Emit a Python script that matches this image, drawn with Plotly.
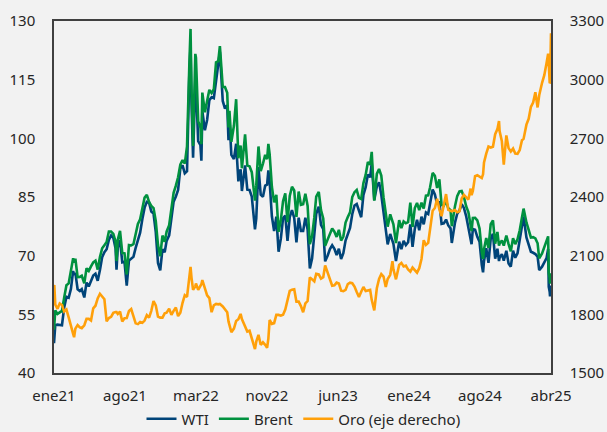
import pandas as pd
import plotly.graph_objects as go

# ---------------- DATA ----------------
fechas = [
    # 2021
    "2021-01-04", "2021-01-05", "2021-01-08", "2021-01-15", "2021-01-22", "2021-01-29",
    "2021-02-05", "2021-02-12", "2021-02-19", "2021-02-26",
    "2021-03-05", "2021-03-08", "2021-03-12", "2021-03-19", "2021-03-26",
    "2021-04-01", "2021-04-09", "2021-04-16", "2021-04-23", "2021-04-30",
    "2021-05-07", "2021-05-14", "2021-05-21", "2021-05-28",
    "2021-06-04", "2021-06-11", "2021-06-18", "2021-06-25",
    "2021-07-02", "2021-07-09", "2021-07-16", "2021-07-19", "2021-07-23", "2021-07-30",
    "2021-08-06", "2021-08-13", "2021-08-20", "2021-08-27",
    "2021-09-03", "2021-09-10", "2021-09-17", "2021-09-24",
    "2021-10-01", "2021-10-08", "2021-10-15", "2021-10-22", "2021-10-29",
    "2021-11-05", "2021-11-12", "2021-11-19", "2021-11-26",
    "2021-12-03", "2021-12-10", "2021-12-17", "2021-12-23", "2021-12-31",
    # 2022
    "2022-01-07", "2022-01-14", "2022-01-21", "2022-01-28",
    "2022-02-04", "2022-02-11", "2022-02-18", "2022-02-25",
    "2022-03-04", "2022-03-08", "2022-03-11", "2022-03-16", "2022-03-23", "2022-03-25",
    "2022-04-01", "2022-04-08", "2022-04-11", "2022-04-14", "2022-04-22", "2022-04-29",
    "2022-05-06", "2022-05-13", "2022-05-20", "2022-05-27",
    "2022-06-03", "2022-06-08", "2022-06-17", "2022-06-24",
    "2022-07-01", "2022-07-05", "2022-07-08", "2022-07-14", "2022-07-22", "2022-07-29",
    "2022-08-05", "2022-08-12", "2022-08-16", "2022-08-26",
    "2022-09-02", "2022-09-09", "2022-09-16", "2022-09-26", "2022-09-30",
    "2022-10-07", "2022-10-14", "2022-10-21", "2022-10-28",
    "2022-11-03", "2022-11-07", "2022-11-11", "2022-11-18", "2022-11-25",
    "2022-12-02", "2022-12-09", "2022-12-16", "2022-12-23", "2022-12-30",
    # 2023
    "2023-01-06", "2023-01-13", "2023-01-20", "2023-01-27",
    "2023-02-03", "2023-02-10", "2023-02-17", "2023-02-24",
    "2023-03-03", "2023-03-10", "2023-03-17", "2023-03-24", "2023-03-31",
    "2023-04-06", "2023-04-14", "2023-04-21", "2023-04-28",
    "2023-05-04", "2023-05-12", "2023-05-19", "2023-05-26",
    "2023-06-02", "2023-06-09", "2023-06-16", "2023-06-23", "2023-06-30",
    "2023-07-07", "2023-07-14", "2023-07-21", "2023-07-28",
    "2023-08-04", "2023-08-11", "2023-08-18", "2023-08-25",
    "2023-09-01", "2023-09-08", "2023-09-15", "2023-09-22", "2023-09-27",
    "2023-10-05", "2023-10-13", "2023-10-20", "2023-10-27",
    "2023-11-03", "2023-11-10", "2023-11-16", "2023-11-24",
    "2023-12-01", "2023-12-04", "2023-12-12", "2023-12-22", "2023-12-29",
    # 2024
    "2024-01-05", "2024-01-12", "2024-01-19", "2024-01-26",
    "2024-02-02", "2024-02-09", "2024-02-16", "2024-02-23",
    "2024-03-01", "2024-03-08", "2024-03-15", "2024-03-22", "2024-03-28",
    "2024-04-05", "2024-04-12", "2024-04-19", "2024-04-26",
    "2024-05-03", "2024-05-10", "2024-05-17", "2024-05-24", "2024-05-31",
    "2024-06-04", "2024-06-14", "2024-06-21", "2024-06-28",
    "2024-07-05", "2024-07-12", "2024-07-19", "2024-07-26",
    "2024-08-02", "2024-08-05", "2024-08-09", "2024-08-16", "2024-08-23", "2024-08-30",
    "2024-09-06", "2024-09-10", "2024-09-13", "2024-09-20", "2024-09-27",
    "2024-10-04", "2024-10-11", "2024-10-18", "2024-10-25", "2024-10-30",
    "2024-11-01", "2024-11-08", "2024-11-14", "2024-11-22", "2024-11-29",
    "2024-12-06", "2024-12-13", "2024-12-20", "2024-12-27",
    # 2025
    "2025-01-03", "2025-01-10", "2025-01-15", "2025-01-24", "2025-01-31",
    "2025-02-07", "2025-02-14", "2025-02-21", "2025-02-28",
    "2025-03-05", "2025-03-14", "2025-03-21", "2025-03-28",
    "2025-04-02", "2025-04-03", "2025-04-04", "2025-04-07", "2025-04-08", "2025-04-09", "2025-04-10", "2025-04-11",
]

brent = [
    # 2021
    51.09, 53.60, 55.99, 55.10, 55.41, 55.88,
    59.34, 62.43, 62.91, 66.13,
    69.36, 68.24, 69.22, 64.53, 64.57,
    64.86, 62.95, 66.77, 66.11, 67.25,
    68.28, 68.71, 66.44, 69.63,
    71.89, 72.69, 73.51, 76.18,
    76.17, 75.55, 73.59, 68.62, 74.10, 76.33,
    70.70, 70.59, 65.18, 72.70,
    72.61, 72.92, 75.34, 78.09,
    79.28, 82.39, 84.86, 85.53, 83.72,
    82.74, 82.17, 78.89, 72.72,
    69.88, 75.15, 73.52, 76.14, 77.78,
    # 2022
    81.75, 86.06, 87.89, 90.03,
    93.27, 94.44, 93.54, 97.93,
    118.11, 127.98, 112.67, 98.02, 121.60, 120.65,
    104.39, 102.78, 98.48, 111.70, 106.65, 109.34,
    112.39, 111.55, 112.55, 119.43,
    119.72, 123.58, 113.12, 113.12,
    111.63, 102.77, 107.02, 99.10, 103.20, 110.01,
    94.92, 98.15, 92.34, 100.99,
    93.02, 92.84, 91.35, 84.06, 87.96,
    97.92, 91.63, 93.50, 95.77,
    94.67, 98.57, 95.99, 87.62, 83.63,
    85.57, 76.10, 79.04, 83.92, 85.91,
    # 2023
    78.57, 85.28, 87.63, 86.66,
    79.94, 86.39, 83.00, 83.16,
    85.83, 82.78, 72.97, 74.99, 79.77,
    85.12, 86.31, 81.66, 79.54,
    72.50, 74.17, 75.58, 76.95,
    76.13, 74.79, 76.61, 73.85, 74.90,
    78.47, 79.87, 81.07, 84.99,
    86.24, 86.81, 84.80, 84.48,
    88.55, 90.65, 93.93, 93.27, 96.55,
    84.07, 90.89, 92.16, 90.48,
    84.89, 81.43, 77.42, 80.58,
    78.88, 78.03, 73.24, 79.07, 77.04,
    # 2024
    78.76, 78.29, 78.56, 83.55,
    77.33, 82.19, 83.47, 81.62,
    83.55, 82.08, 85.34, 85.43, 87.48,
    91.17, 90.45, 87.29, 89.50,
    82.96, 82.79, 83.98, 82.12, 81.62,
    77.52, 82.62, 85.24, 86.41,
    86.54, 85.03, 82.63, 81.13,
    76.81, 76.30, 79.66, 79.68, 79.02, 76.93,
    71.06, 69.19, 71.61, 74.49, 71.98,
    78.05, 79.04, 73.06, 76.05, 72.55,
    73.10, 73.87, 72.56, 75.17, 72.94,
    71.12, 74.49, 72.94, 74.17,
    # 2025
    76.51, 79.76, 82.03, 78.50, 76.76,
    74.66, 74.74, 74.43, 73.18,
    69.30, 70.58, 72.16, 73.63,
    74.95, 70.14, 65.58, 64.21, 62.82, 65.48, 63.33, 64.76,
]

wti = [
    # 2021
    47.62, 49.93, 52.24, 52.36, 52.27, 52.20,
    56.85, 59.47, 59.24, 61.50,
    66.09, 65.05, 65.61, 61.42, 60.97,
    61.45, 59.32, 63.13, 62.14, 63.58,
    64.90, 65.37, 63.58, 66.32,
    69.62, 70.91, 71.64, 74.05,
    75.16, 74.56, 71.81, 66.42, 72.07, 73.95,
    68.28, 68.44, 62.32, 68.74,
    69.29, 69.72, 71.97, 73.98,
    75.88, 79.35, 82.28, 83.76, 83.57,
    81.27, 80.79, 76.10, 68.15,
    66.26, 71.67, 70.86, 73.79, 75.21,
    # 2022
    78.90, 83.82, 85.14, 86.82,
    92.31, 93.10, 91.07, 91.59,
    115.68, 123.70, 109.33, 95.04, 114.93, 113.90,
    99.27, 98.26, 94.29, 106.95, 102.07, 104.69,
    109.77, 110.49, 110.28, 115.07,
    118.87, 122.11, 109.56, 107.62,
    108.43, 99.50, 104.79, 95.78, 94.70, 98.62,
    89.01, 92.09, 86.53, 93.06,
    86.87, 86.79, 85.11, 76.71, 79.49,
    92.64, 85.61, 85.05, 87.90,
    88.17, 91.79, 88.96, 80.08, 76.28,
    79.98, 71.02, 74.29, 79.56, 80.26,
    # 2023
    73.77, 79.86, 81.64, 79.68,
    73.39, 79.72, 76.34, 76.32,
    79.68, 76.68, 66.74, 69.26, 75.67,
    80.70, 82.52, 77.87, 76.78,
    68.56, 70.04, 71.69, 72.67,
    71.74, 70.17, 71.78, 69.16, 70.64,
    73.86, 75.42, 77.07, 80.58,
    82.82, 83.19, 81.25, 79.83,
    85.55, 87.51, 90.77, 90.03, 93.68,
    84.22, 87.69, 88.75, 85.54,
    80.51, 77.17, 72.90, 75.54,
    74.07, 73.04, 68.61, 73.56, 71.65,
    # 2024
    73.81, 72.68, 73.41, 78.01,
    72.28, 76.84, 79.19, 76.49,
    79.97, 78.01, 81.04, 80.63, 83.17,
    86.91, 85.66, 83.14, 83.85,
    78.11, 78.26, 79.23, 77.72, 76.99,
    73.25, 78.45, 80.73, 81.54,
    83.16, 82.21, 80.13, 77.16,
    73.52, 72.94, 76.84, 76.65, 74.83, 73.55,
    67.67, 65.75, 68.65, 71.92, 68.18,
    74.38, 75.56, 69.22, 71.78, 68.61,
    69.49, 70.38, 68.70, 71.24, 68.00,
    67.20, 71.29, 69.46, 70.60,
    # 2025
    73.96, 76.57, 80.04, 74.66, 72.53,
    71.00, 70.74, 70.40, 69.76,
    66.31, 67.18, 68.28, 69.36,
    71.71, 66.95, 61.99, 60.70, 59.58, 62.35, 60.07, 61.50,
]

oro = [
    # 2021
    1943, 1950, 1850, 1828, 1856, 1848,
    1814, 1824, 1784, 1734,
    1700, 1683, 1727, 1745, 1733,
    1729, 1744, 1777, 1777, 1769,
    1831, 1844, 1881, 1905,
    1891, 1877, 1764, 1781,
    1787, 1808, 1812, 1812, 1802, 1814,
    1763, 1780, 1781, 1817,
    1827, 1787, 1754, 1750,
    1761, 1757, 1768, 1796, 1783,
    1818, 1868, 1846, 1788,
    1783, 1783, 1805, 1808, 1829,
    # 2022
    1797, 1818, 1835, 1791,
    1808, 1859, 1898, 1889,
    1970, 2043, 1988, 1925, 1943, 1958,
    1925, 1945, 1954, 1975, 1931, 1897,
    1883, 1811, 1846, 1853,
    1851, 1853, 1840, 1827,
    1811, 1764, 1742, 1709, 1727, 1766,
    1775, 1802, 1776, 1737,
    1712, 1716, 1675, 1622, 1661,
    1695, 1644, 1657, 1644,
    1629, 1676, 1771, 1751, 1755,
    1797, 1797, 1793, 1798, 1824,
    # 2023
    1865, 1920, 1926, 1928,
    1865, 1865, 1842, 1811,
    1856, 1868, 1989, 1978, 1969,
    2007, 2004, 1983, 1990,
    2050, 2011, 1978, 1946,
    1948, 1962, 1958, 1921, 1919,
    1925, 1955, 1962, 1959,
    1942, 1914, 1889, 1915,
    1940, 1919, 1924, 1925, 1874,
    1820, 1933, 1981, 2006,
    1993, 1940, 1981, 2002,
    2072, 2030, 1979, 2053, 2063,
    # 2024
    2045, 2049, 2029, 2018,
    2039, 2024, 2013, 2036,
    2083, 2179, 2155, 2165, 2230,
    2330, 2344, 2391, 2337,
    2302, 2361, 2415, 2334, 2327,
    2327, 2333, 2322, 2327,
    2392, 2411, 2401, 2387,
    2443, 2410, 2431, 2507, 2512, 2503,
    2497, 2516, 2577, 2622, 2658,
    2653, 2657, 2721, 2747, 2788,
    2736, 2685, 2565, 2715, 2650,
    2633, 2648, 2622, 2621,
    # 2025
    2640, 2690, 2697, 2770, 2800,
    2861, 2883, 2936, 2858,
    2920, 2984, 3023, 3084,
    3133, 3114, 3037, 2982, 2984, 3083, 3176, 3237,
]

etiquetas_x = ["ene21", "ago21", "mar22", "nov22", "jun23", "ene24", "ago24", "abr25"]
ticks_izq = [40, 55, 70, 85, 100, 115, 130]
ticks_der = [1500, 1800, 2100, 2400, 2700, 3000, 3300]

assert len(fechas) == len(brent) == len(wti) == len(oro)

# ---------------- FIGURE ----------------
fx = pd.to_datetime(fechas)
inicio, fin = fx[0], fx[-1]
tickpos = [inicio + (fin - inicio) * k / (len(etiquetas_x) - 1) for k in range(len(etiquetas_x))]

fig = go.Figure()
fig.add_trace(go.Scatter(x=fx, y=wti, name="WTI", mode="lines",
                         line=dict(color="#004479", width=2.6)))
fig.add_trace(go.Scatter(x=fx, y=brent, name="Brent", mode="lines",
                         line=dict(color="#00913f", width=2.6)))
fig.add_trace(go.Scatter(x=fx, y=oro, name="Oro (eje derecho)", mode="lines", yaxis="y2",
                         line=dict(color="#ffa00a", width=2.6)))

font_fam = "Noto Sans, Open Sans, Liberation Sans, sans-serif"
linecol = "#404040"

fig.update_layout(
    width=607, height=432,
    margin=dict(l=54, r=56, t=21, b=59, autoexpand=False),
    paper_bgcolor="#f2f2f2", plot_bgcolor="#f2f2f2",
    font=dict(family=font_fam, size=15, color="#262626"),
    showlegend=True,
    legend=dict(orientation="h", x=0.5, xanchor="center", xref="container",
                y=0.03, yanchor="middle", yref="container",
                bgcolor="rgba(0,0,0,0)", font=dict(size=15), itemwidth=30,
                traceorder="normal"),
    xaxis=dict(type="date", range=[inicio, fin], tickvals=tickpos, ticktext=etiquetas_x,
               showgrid=False, zeroline=False, showline=True, mirror=True,
               linecolor=linecol, linewidth=1.5, ticks="", ticklabelstandoff=8,
               automargin=False),
    yaxis=dict(range=[40, 130], tickvals=ticks_izq, showgrid=False, zeroline=False,
               showline=True, mirror=True, linecolor=linecol, linewidth=1.5,
               ticks="", ticklabelstandoff=14, automargin=False),
    yaxis2=dict(range=[1500, 3300], tickvals=ticks_der, overlaying="y", side="right",
                showgrid=False, zeroline=False, showline=True, linecolor=linecol,
                linewidth=1.5, ticks="", ticklabelstandoff=14, automargin=False),
)

fig.write_html("out.html", config={"displayModeBar": False},
               post_script="document.body.style.margin='0';document.body.style.padding='0';")
